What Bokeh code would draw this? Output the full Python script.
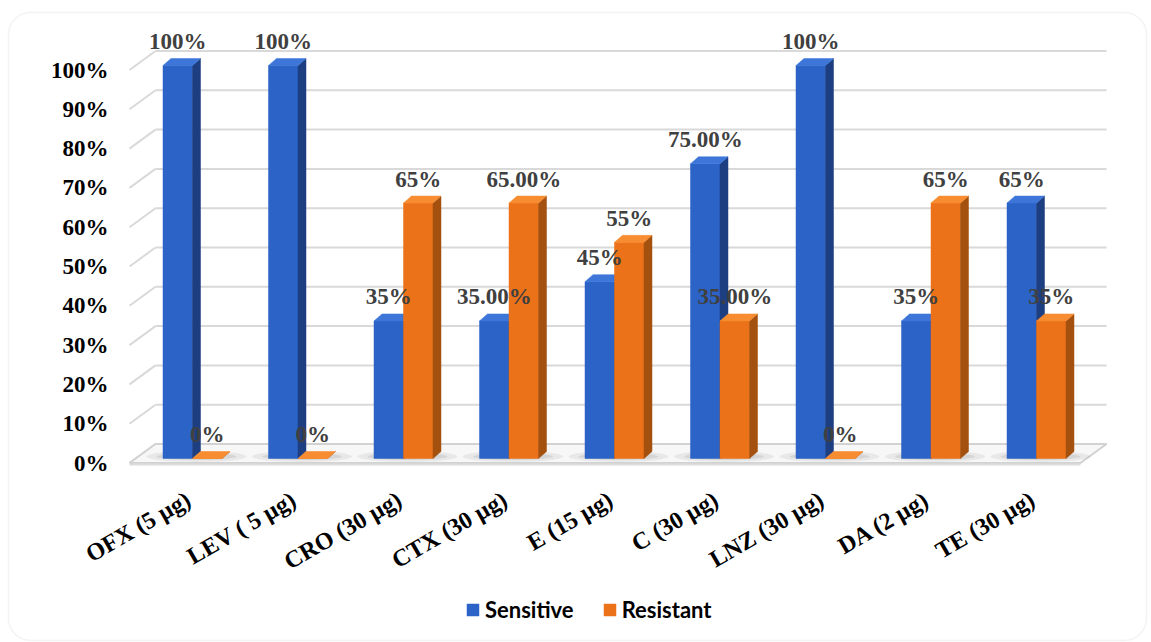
import math
from bokeh.plotting import figure
from bokeh.models import Range1d, ColumnDataSource, Legend, LegendItem, BoxAnnotation
from bokeh.core.properties import value
from bokeh.embed import file_html
from bokeh.resources import INLINE

# ---------------- data ----------------
categories = ["OFX (5 µg)", "LEV ( 5 µg)", "CRO (30 µg)", "CTX (30 µg)", "E (15 µg)",
              "C (30 µg)", "LNZ (30 µg)", "DA (2 µg)", "TE (30 µg)"]
sensitive = [100, 100, 35, 35, 45, 75, 100, 35, 65]
resistant = [0, 0, 65, 65, 55, 35, 0, 65, 35]
sensitive_labels = ["100%", "100%", "35%", "35.00%", "45%", "75.00%", "100%", "35%", "65%"]
resistant_labels = ["0%", "0%", "65%", "65.00%", "55%", "35.00%", "0%", "65%", "35%"]
y_ticks = [0, 10, 20, 30, 40, 50, 60, 70, 80, 90, 100]
y_tick_labels = ["0%", "10%", "20%", "30%", "40%", "50%", "60%", "70%", "80%", "90%", "100%"]
series_names = ["Sensitive", "Resistant"]

# ---------------- layout (pixel geometry) ----------------
W, H = 1151, 642
X0_PX, DX_PX = 192.0, 105.5      # category 0 boundary, category spacing
Y0_PX, DY_PX = 458.0, 3.93       # bar base pixel, pixels per percent

def xd(px):
    return (px - X0_PX) / DX_PX

def yd(py):
    return (Y0_PX - py) / DY_PX

def wx(px):
    return px / DX_PX

def hy(px):
    return px / DY_PX

SERIF = value("Liberation Serif")
FONT_SIZE = "23px"
BW = wx(29.5)
DXD, DYD = wx(8), hy(7)
FRONT_OFF, BACK_OFF = hy(-4.5), hy(14.5)
FRONT_X, BACK_X, BACK_END_X, FRONT_END_X = xd(129), xd(155), xd(1106), xd(1080)

GRID_COLOR = "#d9d9d9"
BLUE = dict(front="#2c63c7", side="#1d3f82", top="#3d76d8")
ORANGE = dict(front="#ec7219", side="#a4500f", top="#f78c30")

p = figure(width=W, height=H, output_backend="svg", toolbar_location=None,
           x_axis_location=None, y_axis_location=None,
           x_range=Range1d(xd(0), xd(W)), y_range=Range1d(yd(H), yd(0)),
           min_border=0, outline_line_color=None, background_fill_color="white",
           border_fill_color="white")
p.xgrid.visible = False
p.ygrid.visible = False

# rounded chart border
p.add_layout(BoxAnnotation(left=xd(8), right=xd(1146), top=yd(12), bottom=yd(640),
                           border_radius=22, fill_color=None,
                           line_color="#d6d6d6", line_width=1.5, level="underlay"))

# ---------------- gridlines (3D walls) ----------------
back_y = [t + BACK_OFF for t in y_ticks]
front_y = [t + FRONT_OFF for t in y_ticks]
p.segment(x0=[BACK_X] * len(y_ticks), y0=back_y, x1=[BACK_END_X] * len(y_ticks), y1=back_y,
          line_color=GRID_COLOR, line_width=2)
p.segment(x0=[FRONT_X] * len(y_ticks), y0=front_y, x1=[BACK_X] * len(y_ticks), y1=back_y,
          line_color=GRID_COLOR, line_width=2)

# floor
p.patch(x=[FRONT_X, FRONT_END_X, BACK_END_X, BACK_X],
        y=[FRONT_OFF, FRONT_OFF, BACK_OFF, BACK_OFF],
        fill_color="#f7f7f7", line_color="#d2d2d2", line_width=2)
p.segment(x0=[FRONT_X], y0=[FRONT_OFF - hy(1.5)], x1=[FRONT_END_X], y1=[FRONT_OFF - hy(1.5)],
          line_color="#dcdcdc", line_width=2)

# bar shadows on the floor
idx = list(range(len(categories)))
p.ellipse(x=[i + wx(4) for i in idx], y=[hy(2)] * len(idx), width=wx(100), height=hy(11),
          fill_color="#9c9c9c", fill_alpha=0.16, line_color=None)
p.ellipse(x=[i + wx(4) for i in idx], y=[hy(2)] * len(idx), width=wx(80), height=hy(7),
          fill_color="#8c8c8c", fill_alpha=0.2, line_color=None)

# y tick labels (front plane)
p.text(x=[xd(108)] * len(y_ticks), y=front_y, text=y_tick_labels,
       text_align="right", text_baseline="middle", text_font=SERIF,
       text_font_style="bold", text_font_size=FONT_SIZE, text_color="black")

# ---------------- 3D bars ----------------
legend_items = []
label_sets = []
for name, vals, labels, col, shift in [("Sensitive", sensitive, sensitive_labels, BLUE, -BW / 2),
                                       ("Resistant", resistant, resistant_labels, ORANGE, BW / 2)]:
    centers = [i + shift for i in idx]
    src = ColumnDataSource(dict(x=centers, top=vals, cat=categories))
    front = p.vbar(x="x", top="top", bottom=0, width=BW, source=src,
                   fill_color=col["front"], line_color=col["front"], line_width=0.5)
    side_xs, side_ys, top_xs, top_ys = [], [], [], []
    for c, v in zip(centers, vals):
        xl, xr = c - BW / 2, c + BW / 2
        side_xs.append([xr, xr + DXD, xr + DXD, xr])
        side_ys.append([0, DYD, v + DYD, v])
        top_xs.append([xl, xl + DXD, xr + DXD, xr])
        top_ys.append([v, v + DYD, v + DYD, v])
    p.patches(xs=side_xs, ys=side_ys, fill_color=col["side"], line_color=col["side"], line_width=0.5)
    p.patches(xs=top_xs, ys=top_ys, fill_color=col["top"], line_color=col["top"], line_width=0.5)
    legend_items.append(LegendItem(label=name, renderers=[front]))
    label_sets.append((centers, vals, labels))

# data labels drawn on top of all bars
for centers, vals, labels in label_sets:
    p.text(x=centers, y=[v + hy(24) for v in vals], text=labels,
           text_align="center", text_baseline="middle", text_font=SERIF,
           text_font_style="bold", text_font_size=FONT_SIZE, text_color="#404040")

# category labels (rotated)
p.text(x=[i + wx(-4) for i in idx], y=[yd(497)] * len(idx), text=categories,
       angle=math.radians(30), text_align="right", text_baseline="middle",
       text_font=SERIF, text_font_style="bold", text_font_size="24px", text_color="black")

legend = Legend(items=legend_items, orientation="horizontal", location=(465, 19),
                label_text_font="Lato", label_text_font_style="bold",
                label_text_font_size="22px", label_text_color="black",
                glyph_width=15, glyph_height=15, label_standoff=5, spacing=28,
                padding=0, margin=0, border_line_color=None, background_fill_alpha=0)
p.add_layout(legend)

open("out.html", "w").write(file_html(p, INLINE))
